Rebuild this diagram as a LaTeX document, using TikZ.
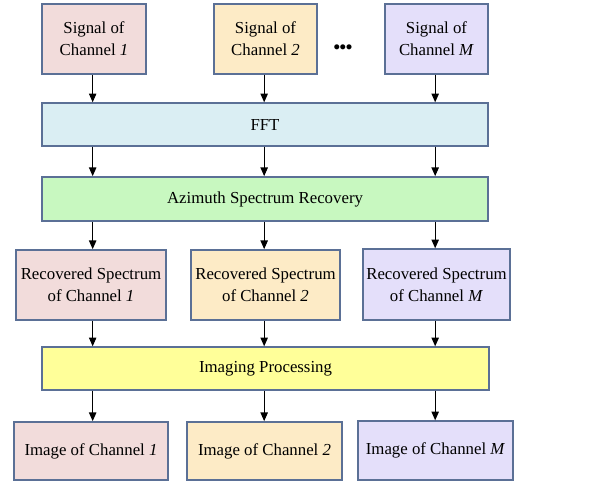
\documentclass[tikz,border=0pt]{standalone}
\usepackage{fontspec}
\setmainfont{Liberation Serif}
\usetikzlibrary{arrows.meta, positioning}
\definecolor{chBorder}{HTML}{5B7096}
\definecolor{chPink}{HTML}{F2DCDB}
\definecolor{chPeach}{HTML}{FDEBC6}
\definecolor{chLilac}{HTML}{E4DFFA}
\definecolor{fftBlue}{HTML}{DAEEF3}
\definecolor{recGreen}{HTML}{C8F8C0}
\definecolor{imgYellow}{HTML}{FFFF99}

\begin{document}
\begin{tikzpicture}[x=0.75pt, y=-0.75pt,
    chbox/.style={rectangle, draw=chBorder, line width=1.3pt,
      align=center, inner sep=0pt, text=black,
      font=\fontsize{12.6pt}{16.5pt}\selectfont},
    flow/.style={-{Triangle[length=6.5pt, width=5.5pt]}, line width=0.8pt, black}]
    \useasboundingbox (0,0) rectangle (605,483);
    % input signals
    \node[chbox, fill=chPink, minimum width=78pt, minimum height=52.5pt]
      (s1) at (94,39) {Signal of\\Channel \textit{1}};
    \node[chbox, fill=chPeach, minimum width=77pt, minimum height=52.5pt]
      (s2) at (265.5,39) {Signal of\\Channel \textit{2}};
    \node[chbox, fill=chLilac, minimum width=77pt, minimum height=52.5pt]
      (s3) at (436.5,39) {Signal of\\Channel \textit{M}};
    \node[font=\fontsize{14pt}{14pt}\selectfont\bfseries, inner sep=0pt]
      (dots) at (343,49) {\textbullet\kern-0.3pt\textbullet\kern-0.3pt\textbullet};
    % processing bars
    \node[chbox, fill=fftBlue, minimum width=334.5pt, minimum height=32pt]
      (fft) at (265,124.5) {FFT};
    \node[chbox, fill=recGreen, minimum width=334.5pt, minimum height=33pt]
      (azi) at (265,199) {Azimuth Spectrum Recovery};
    % recovered spectra
    \node[chbox, fill=chPink, minimum width=112.5pt, minimum height=52.5pt]
      (r1) at (91,285) {Recovered Spectrum\\of Channel \textit{1}};
    \node[chbox, fill=chPeach, minimum width=111.5pt, minimum height=52.5pt]
      (r2) at (265.5,285) {Recovered Spectrum\\of Channel \textit{2}};
    \node[chbox, fill=chLilac, minimum width=110pt, minimum height=53pt]
      (r3) at (436.5,284.5) {Recovered Spectrum\\of Channel \textit{M}};
    \node[chbox, fill=imgYellow, minimum width=335pt, minimum height=32pt]
      (img) at (265.5,368.5) {Imaging Processing};
    % output images
    \node[chbox, fill=chPink, minimum width=116pt, minimum height=43.5pt]
      (i1) at (91,451) {Image of Channel \textit{1}};
    \node[chbox, fill=chPeach, minimum width=116pt, minimum height=43.5pt]
      (i2) at (264.5,451) {Image of Channel \textit{2}};
    \node[chbox, fill=chLilac, minimum width=116pt, minimum height=44pt]
      (i3) at (435.5,450.5) {Image of Channel \textit{M}};
    % connectors
    \foreach \col in {1,2,3} {
      \draw[flow] ([xshift=-1pt]s\col.south) -- ([xshift=-1pt]s\col.south |- fft.north);
      \draw[flow] ([xshift=-1pt]s\col.south |- fft.south) -- ([xshift=-1pt]s\col.south |- azi.north);
      \draw[flow] ([xshift=-1pt]s\col.south |- azi.south) -- ([xshift=-1pt]s\col.south |- r\col.north);
      \draw[flow] ([xshift=-1pt]s\col.south |- r\col.south) -- ([xshift=-1pt]s\col.south |- img.north);
      \draw[flow] ([xshift=-1pt]s\col.south |- img.south) -- ([xshift=-1pt]s\col.south |- i\col.north);
    }
  \end{tikzpicture}
\end{document}
